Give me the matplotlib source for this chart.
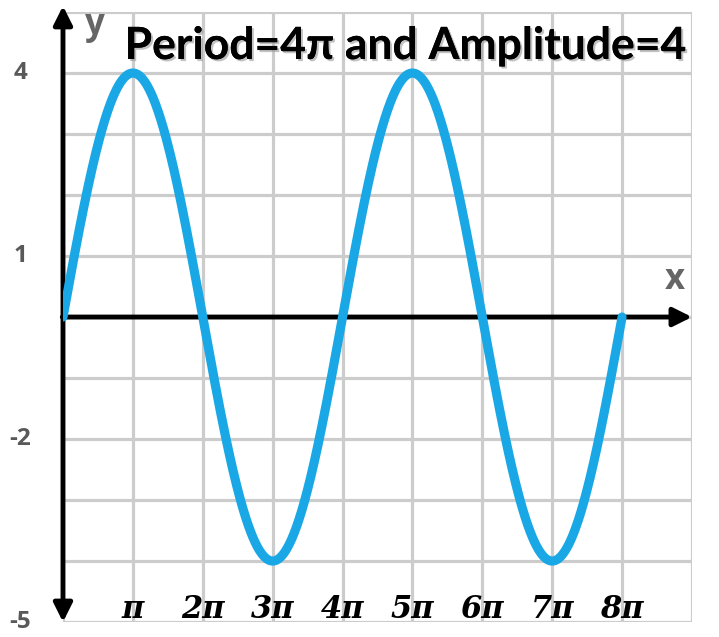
import numpy as np
import matplotlib.pyplot as plt
import matplotlib.patheffects as pe

# valores de la grafica
amplitud = 4
periodo = 4 * np.pi
x_ini, x_fin = 0, 8 * np.pi
xticks_mult = [1, 2, 3, 4, 5, 6, 7, 8]
xtick_labels = ['π', '2π', '3π', '4π', '5π', '6π', '7π', '8π']
yticks_vals = [4, 1, -2, -5]
yticks_labels = ['4', '1', '-2', '-5']
titulo = 'Period=4π and Amplitude=4'

x = np.linspace(x_ini, x_fin, 800)
y = amplitud * np.sin(2 * np.pi * x / periodo)

fig = plt.figure(figsize=(7.19, 6.37), dpi=100)
ax = fig.add_axes([0.0876, 0.0235, 0.8748, 0.9576])
ax.set_xlim(0, 9 * np.pi)
ax.set_ylim(-5, 5)

# cuadricula
ax.set_xticks(np.arange(0, 10) * np.pi)
ax.set_yticks(np.arange(-5, 6))
ax.grid(True, color='#cccccc', lw=2.3)
ax.tick_params(length=0, labelbottom=False, labelleft=False)
for s in ax.spines.values():
    s.set_visible(False)

# curva
ax.plot(x, y, color='#1aa7e6', lw=6.6, solid_capstyle='round', zorder=4)

# ejes con flechas
ax.annotate('', xy=(0, 5.1), xytext=(0, -5.0),
            arrowprops=dict(arrowstyle='<|-|>', color='black', lw=3.5,
                            mutation_scale=28, shrinkA=0, shrinkB=0),
            annotation_clip=False, zorder=3)
ax.annotate('', xy=(9 * np.pi, 0), xytext=(-0.03, 0),
            arrowprops=dict(arrowstyle='-|>', color='black', lw=3.5,
                            mutation_scale=28, shrinkA=0, shrinkB=0),
            annotation_clip=False, zorder=3)

# etiquetas x
for m, lab in zip(xticks_mult, xtick_labels):
    ax.text(m * np.pi, -4.93, lab, ha='center', va='baseline', fontsize=22,
            family='DejaVu Serif', weight='bold', style='italic', zorder=5)

# etiquetas y
for v, lab in zip(yticks_vals, yticks_labels):
    ax.text(-1.93, v, lab, ha='center', va='center', fontsize=17.5,
            family='Open Sans', weight='bold', color='#595959', clip_on=False)

ax.text(1.45, 4.78, 'y', ha='center', va='center', fontsize=25,
        family='Open Sans', weight='bold', color='#666666', zorder=5)
ax.text(27.5, 0.6, 'x', ha='center', va='center', fontsize=25,
        family='Open Sans', weight='bold', color='#666666', zorder=5)

ax.text(28.05, 4.23, titulo, ha='right', va='baseline', fontsize=32,
        family='Lato', weight='bold', color='black', zorder=5,
        path_effects=[pe.withSimplePatchShadow(offset=(1.5, -1.5), shadow_rgbFace='#999999', alpha=0.6), pe.Normal()])

fig.savefig('out.png', dpi=100)
